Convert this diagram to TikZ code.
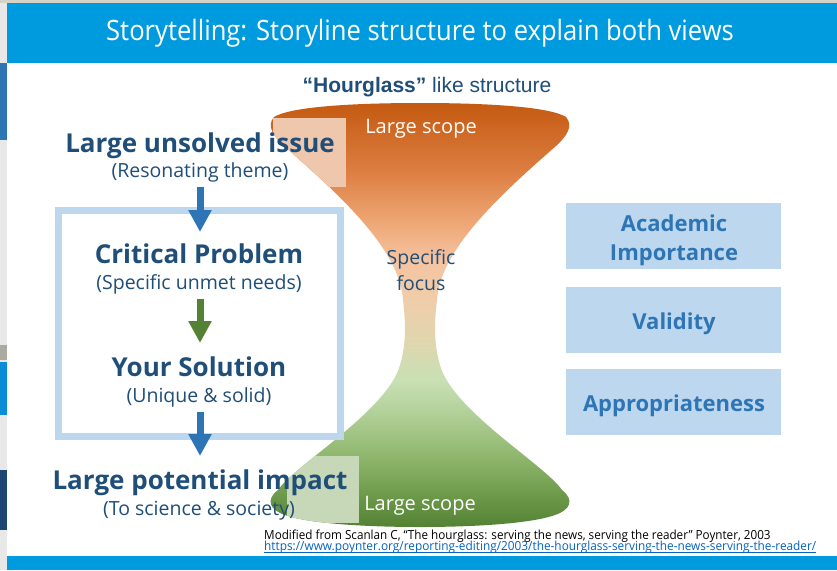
\documentclass[tikz,border=0pt]{standalone}
\usepackage{fontspec}
\setmainfont{Open Sans}
\newfontfamily\arialf{Liberation Sans}
\newfontfamily\notef[FakeStretch=0.935]{Open Sans}
\newfontfamily\urlf[FakeStretch=0.947]{Open Sans}
\newfontfamily\titlef[FakeStretch=0.913]{Open Sans}
\usetikzlibrary{arrows.meta}
\definecolor{titleblue}{RGB}{0,155,222}
\definecolor{dblue}{RGB}{31,78,121}
\definecolor{ablue}{RGB}{46,117,182}
\definecolor{agreen}{RGB}{84,130,53}
\definecolor{lblue}{RGB}{189,215,238}
\definecolor{stripgray}{RGB}{232,232,232}
\definecolor{stripdark}{RGB}{170,170,160}
\definecolor{topgray}{RGB}{214,211,198}
\definecolor{urlblue}{RGB}{5,99,193}
\definecolor{navy}{RGB}{31,70,115}
\definecolor{midblue}{RGB}{10,140,215}
\definecolor{hA}{RGB}{84,130,53}
\definecolor{hB}{RGB}{105,150,70}
\definecolor{hC}{RGB}{140,180,105}
\definecolor{hD}{RGB}{180,210,155}
\definecolor{hE}{RGB}{200,224,180}
\definecolor{hF}{RGB}{222,215,175}
\definecolor{hG}{RGB}{240,205,170}
\definecolor{hH}{RGB}{246,195,160}
\definecolor{hI}{RGB}{237,165,115}
\definecolor{hJ}{RGB}{220,125,65}
\definecolor{hK}{RGB}{197,90,17}
\definecolor{veiltop}{RGB}{238,199,172}
\definecolor{veilbot}{RGB}{198,216,184}
\pgfdeclareverticalshading{hgshade}{100bp}{color(0bp)=(hA); color(25bp)=(hA); color(28.2bp)=(hB); color(32.9bp)=(hC); color(38.8bp)=(hD); color(42.3bp)=(hE); color(46.5bp)=(hF); color(51.8bp)=(hG); color(56.5bp)=(hH); color(61.2bp)=(hI); color(67.1bp)=(hJ); color(75bp)=(hK); color(100bp)=(hK)}
\def\hgpath{(420,103) .. controls (490,103) and (550,107) .. (566,117)
  .. controls (574,126) and (566,137) .. (556,146)
  .. controls (500,195) and (440,250) .. (437,300)
  .. controls (434,325) and (434,345) .. (440,365)
  .. controls (452,410) and (545,465) .. (562,490)
  .. controls (575,500) and (570,510) .. (555,515)
  .. controls (530,524) and (470,527) .. (420,527)
  .. controls (370,527) and (310,524) .. (285,515)
  .. controls (270,510) and (265,500) .. (278,490)
  .. controls (295,465) and (388,410) .. (400,365)
  .. controls (406,345) and (406,325) .. (403,300)
  .. controls (400,250) and (340,195) .. (284,146)
  .. controls (274,137) and (266,126) .. (274,117)
  .. controls (290,107) and (350,103) .. (420,103) -- cycle}
\tikzset{
  head/.style={font=\fontsize{26}{30}\selectfont\bfseries, text=dblue, anchor=base, inner sep=0pt},
  subt/.style={font=\fontsize{19.5}{24}\selectfont, text=dblue, anchor=base, inner sep=0pt},
  boxt/.style={font=\fontsize{22}{26}\selectfont\bfseries, text=ablue, anchor=base, inner sep=0pt},
  scopet/.style={font=\fontsize{20}{24}\selectfont, text=white, anchor=base, inner sep=0pt},
  focust/.style={font=\fontsize{19.5}{24}\selectfont, text=dblue, anchor=base, inner sep=0pt},
  notet/.style={font=\notef\fontsize{12.5}{15}\selectfont, anchor=base west, inner sep=0pt},
  critbox/.style={fill=lblue, minimum width=215pt, minimum height=66pt, inner sep=0pt},
  blkarrow/.style={line width=7pt, -{Triangle[length=22pt,width=22pt]}}
}
\begin{document}
\begin{tikzpicture}[x=1pt,y=-1pt]
\useasboundingbox (0,0) rectangle (837,570);
\fill[white] (0,0) rectangle (837,570);
% left strip of the neighbouring window
\fill[stripgray] (0,0) rectangle (7,570);
\fill[ablue] (0,63) rectangle (7,140);
\fill[stripdark] (0,345) rectangle (7,360);
\fill[midblue] (0,362) rectangle (7,415);
\fill[navy] (0,470) rectangle (7,530);
\fill[topgray] (0,0) rectangle (837,3);
% title bar
\node[fill=titleblue, minimum width=830pt, minimum height=60pt, inner sep=0pt] (bar) at (422,33) {};
\node[font=\titlef\fontsize{28}{32}\selectfont, text=white, anchor=base, inner sep=0pt] (title) at (420,40) {Storytelling: Storyline structure to explain both views};
\node[fill=titleblue, minimum width=830pt, minimum height=14pt, inner sep=0pt] (foot) at (422,563) {};
% hourglass
\shade[shading=hgshade] \hgpath;
\begin{scope}
  \clip \hgpath;
  \fill[veiltop] (273,118) rectangle (346,187);
  \fill[veilbot] (287,456) rectangle (359,523);
\end{scope}
\node[font=\arialf\fontsize{21}{24}\selectfont, text=dblue, anchor=base, inner sep=0pt] (hgtitle) at (427,92) {\bfseries “Hourglass”\mdseries{} like structure};
\node[scopet] (scopetop) at (421,133) {Large scope};
\node[focust] (spec) at (421,264) {Specific};
\node[focust] (focus) at (421,290) {focus};
\node[scopet] (scopebot) at (420,510) {Large scope};
% left column
\node[draw=lblue, line width=7pt, minimum width=281.5pt, minimum height=226pt, inner sep=0pt] (frame) at (199.25,323) {};
\node[head] (issue) at (200,152) {Large unsolved issue};
\node[subt] (reson) at (200,177) {(Resonating theme)};
\node[head] (crit) at (199,263) {Critical Problem};
\node[subt] (needs) at (199,289) {(Specific unmet needs)};
\node[head] (sol) at (199,376) {Your Solution};
\node[subt] (uniq) at (199,402) {(Unique \& solid)};
\node[head] (impact) at (200,489) {Large potential impact};
\node[subt] (soc) at (199,515) {(To science \& society)};
\coordinate (a1s) at (200,187);
\coordinate (a1e) at (200,232);
\coordinate (a2s) at (200,299);
\coordinate (a2e) at (200,343);
\coordinate (a3s) at (200,412);
\coordinate (a3e) at (200,456);
\draw[blkarrow, ablue] (a1s) -- (a1e);
\draw[blkarrow, agreen] (a2s) -- (a2e);
\draw[blkarrow, ablue] (a3s) -- (a3e);
% right boxes
\node[critbox] (b1) at (673.5,236) {};
\node[critbox] (b2) at (673.5,320) {};
\node[critbox] (b3) at (673.5,402) {};
\node[boxt] (acad) at (674,231) {Academic};
\node[boxt] (imp) at (674,260) {Importance};
\node[boxt] (val) at (674,329) {Validity};
\node[boxt] (appr) at (674,411) {Appropriateness};
% footnote
\node[notet] (ref) at (264,539) {Modified from Scanlan C, “The hourglass: serving the news, serving the reader” Poynter, 2003};
\node[notet, font=\urlf\fontsize{12.5}{15}\selectfont, text=urlblue] (url) at (264,550) {https://www.poynter.org/reporting-editing/2003/the-hourglass-serving-the-news-serving-the-reader/};
\draw[urlblue, line width=0.6pt] ([yshift=-1.8pt]url.base west) -- ([yshift=-1.8pt]url.base east);
\end{tikzpicture}
\end{document}
